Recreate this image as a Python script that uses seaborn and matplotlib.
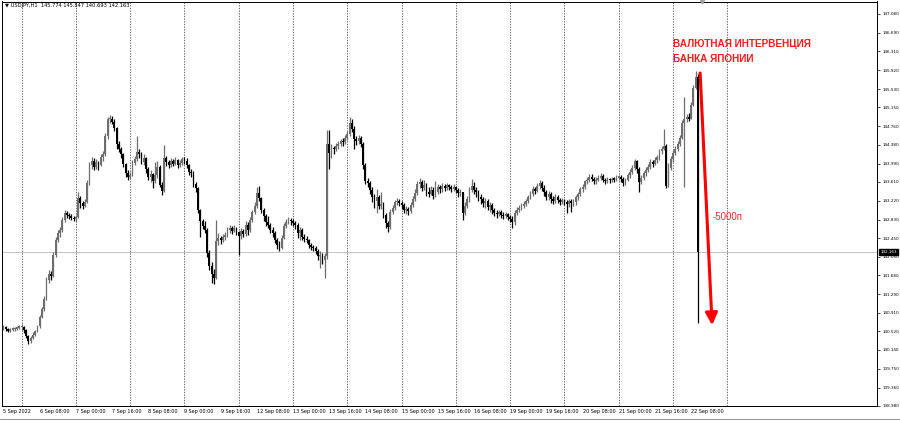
import numpy as np
import pandas as pd
import matplotlib
matplotlib.use("Agg")
import matplotlib.pyplot as plt
import seaborn as sns
from matplotlib import transforms
from matplotlib.lines import Line2D

sns.set_theme(style="white")
plt.rcParams["font.family"] = ["DejaVu Sans"]

# ---------------- data ----------------
chart_title = "\u25bc USDJPY,H1  145.774 145.847 140.693 142.163"
first_open = 140.58

closes = [
    140.62, 140.57, 140.54, 140.56, 140.57, 140.58, 140.60, 140.61,
    140.62, 140.55, 140.42, 140.33, 140.38, 140.45, 140.52, 140.63,
    140.82, 140.98, 141.20, 141.58, 141.70, 141.66, 142.10, 142.42,
    142.55, 142.62, 142.82, 142.96, 142.92, 142.90, 142.86, 142.84,
    142.88, 143.28, 143.18, 143.12, 143.20, 143.58, 143.95, 144.05,
    143.92, 144.02, 143.96, 144.12, 144.18, 144.55, 144.90, 144.92,
    144.85, 144.72, 144.40, 144.30, 144.18, 143.98, 143.80, 143.72,
    143.76, 144.00, 144.08, 144.22, 144.18, 144.02, 144.10, 143.88,
    143.72, 143.78, 143.62, 143.75, 143.92, 143.55, 143.42, 144.10,
    144.02, 143.96, 144.04, 143.98, 144.06, 143.96, 144.00, 144.08,
    144.04, 143.96, 143.82, 143.80, 143.56, 143.48, 143.02, 142.80,
    142.70, 142.62, 142.15, 141.88, 141.70, 141.62, 142.38, 142.45,
    142.40, 142.48, 142.52, 142.62, 142.66, 142.60, 142.66, 142.58,
    142.50, 142.60, 142.54, 142.72, 142.62, 142.82, 142.98, 143.12,
    143.38, 143.28, 143.02, 142.90, 142.78, 142.72, 142.62, 142.56,
    142.42, 142.30, 142.24, 142.46, 142.70, 142.78, 142.82, 142.80,
    142.76, 142.72, 142.56, 142.62, 142.48, 142.44, 142.40, 142.30,
    142.26, 142.24, 142.18, 142.08, 142.10, 142.00, 142.08, 144.40,
    144.20, 144.32, 144.28, 144.36, 144.40, 144.46, 144.44, 144.52,
    144.60, 144.82, 144.70, 144.50, 144.46, 144.52, 144.40, 143.96,
    143.62, 143.58, 143.44, 143.30, 143.22, 143.30, 143.12, 143.16,
    142.92, 142.76, 142.68, 142.98, 143.08, 143.20, 143.22, 143.18,
    143.14, 143.02, 143.06, 143.00, 143.14, 143.26, 143.38, 143.56,
    143.60, 143.48, 143.54, 143.40, 143.36, 143.44, 143.32, 143.40,
    143.50, 143.46, 143.52, 143.48, 143.54, 143.50, 143.46, 143.50,
    143.44, 143.38, 143.40, 142.96, 143.12, 143.26, 143.44, 143.52,
    143.44, 143.40, 143.30, 143.26, 143.18, 143.22, 143.10, 143.14,
    143.02, 142.96, 142.94, 142.98, 142.92, 142.90, 142.94, 142.88,
    142.84, 142.78, 142.96, 143.04, 143.08, 143.12, 143.16, 143.22,
    143.30, 143.36, 143.46, 143.42, 143.52, 143.58, 143.48, 143.40,
    143.30, 143.36, 143.26, 143.22, 143.30, 143.24, 143.20, 143.24,
    143.20, 143.16, 143.22, 143.18, 143.20, 143.30, 143.36, 143.46,
    143.50, 143.62, 143.66, 143.72, 143.68, 143.62, 143.66, 143.70,
    143.74, 143.66, 143.62, 143.66, 143.64, 143.68, 143.66, 143.70,
    143.72, 143.68, 143.58, 143.66, 143.76, 143.82, 143.90, 144.04,
    143.88, 143.60, 143.70, 143.80, 143.86, 143.92, 144.02, 143.98,
    144.06, 144.12, 144.24, 144.30, 144.36, 143.52, 143.90, 144.08,
    144.20, 144.30, 144.40, 144.52, 144.82, 144.90, 144.96, 144.92,
    145.20, 145.56, 145.774, 142.163,
]

highs = [
    140.66, 140.64, 140.60, 140.60, 140.61, 140.62, 140.64, 140.66,
    140.67, 140.63, 140.57, 140.45, 140.42, 140.50, 140.55, 140.66,
    140.86, 141.03, 141.26, 141.64, 141.78, 141.76, 142.16, 142.48,
    142.62, 142.68, 142.88, 143.02, 143.00, 142.96, 142.94, 142.90,
    142.92, 143.40, 143.32, 143.22, 143.26, 143.64, 144.02, 144.12,
    144.10, 144.08, 144.05, 144.18, 144.24, 144.62, 144.96, 144.99,
    144.98, 144.90, 144.75, 144.45, 144.34, 144.20, 144.00, 143.85,
    143.82, 144.06, 144.14, 144.55, 144.30, 144.22, 144.18, 144.12,
    143.92, 143.86, 143.80, 144.02, 144.04, 143.95, 143.60, 144.38,
    144.14, 144.06, 144.10, 144.08, 144.12, 144.08, 144.06, 144.12,
    144.12, 144.10, 143.98, 143.88, 143.84, 143.60, 143.50, 143.05,
    142.85, 142.80, 142.66, 142.20, 141.95, 141.82, 142.82, 142.55,
    142.50, 142.54, 142.58, 142.68, 142.72, 142.70, 142.72, 142.68,
    142.60, 142.66, 142.64, 142.80, 142.78, 142.88, 143.04, 143.20,
    143.50, 143.52, 143.30, 143.08, 142.95, 142.90, 142.76, 142.68,
    142.60, 142.46, 142.38, 142.52, 142.76, 142.84, 142.88, 142.86,
    142.84, 142.80, 142.76, 142.68, 142.66, 142.54, 142.50, 142.44,
    142.34, 142.30, 142.28, 142.22, 142.18, 142.14, 142.14, 144.68,
    144.68, 144.40, 144.36, 144.42, 144.46, 144.50, 144.52, 144.58,
    144.66, 144.95, 144.92, 144.76, 144.56, 144.58, 144.56, 144.44,
    144.00, 143.70, 143.62, 143.50, 143.36, 143.46, 143.34, 143.40,
    143.20, 142.96, 142.80, 143.05, 143.14, 143.24, 143.28, 143.26,
    143.22, 143.18, 143.12, 143.10, 143.20, 143.32, 143.46, 143.62,
    143.70, 143.64, 143.64, 143.58, 143.50, 143.52, 143.50, 143.62,
    143.56, 143.54, 143.58, 143.56, 143.58, 143.56, 143.54, 143.56,
    143.52, 143.48, 143.46, 143.40, 143.20, 143.32, 143.50, 143.68,
    143.60, 143.50, 143.44, 143.36, 143.30, 143.28, 143.26, 143.20,
    143.18, 143.08, 143.02, 143.04, 143.02, 142.98, 142.98, 142.96,
    142.92, 142.90, 143.02, 143.10, 143.14, 143.18, 143.22, 143.26,
    143.34, 143.42, 143.52, 143.50, 143.58, 143.64, 143.62, 143.54,
    143.44, 143.42, 143.40, 143.32, 143.36, 143.34, 143.28, 143.28,
    143.26, 143.24, 143.26, 143.26, 143.26, 143.34, 143.40, 143.50,
    143.56, 143.66, 143.72, 143.78, 143.78, 143.72, 143.72, 143.76,
    143.80, 143.78, 143.70, 143.72, 143.70, 143.72, 143.72, 143.76,
    143.76, 143.76, 143.72, 143.70, 143.80, 143.88, 143.96, 144.08,
    144.06, 143.92, 143.76, 143.84, 143.92, 143.98, 144.08, 144.06,
    144.12, 144.16, 144.30, 144.36, 144.70, 144.40, 144.00, 144.14,
    144.26, 144.36, 144.46, 144.58, 144.88, 145.36, 145.02, 145.04,
    145.26, 145.62, 145.90, 145.847,
]

lows = [
    140.55, 140.53, 140.50, 140.51, 140.53, 140.54, 140.56, 140.57,
    140.55, 140.48, 140.38, 140.27, 140.28, 140.36, 140.42, 140.50,
    140.60, 140.80, 140.95, 141.18, 141.52, 141.58, 141.64, 142.05,
    142.36, 142.48, 142.58, 142.78, 142.86, 142.84, 142.82, 142.80,
    142.78, 142.86, 143.08, 143.06, 143.10, 143.18, 143.55, 143.88,
    143.85, 143.88, 143.86, 143.94, 144.05, 144.15, 144.50, 144.82,
    144.80, 144.66, 144.30, 144.22, 144.10, 143.92, 143.72, 143.66,
    143.68, 143.74, 143.96, 144.04, 144.10, 143.98, 143.96, 143.80,
    143.66, 143.60, 143.48, 143.58, 143.70, 143.50, 143.34, 143.40,
    143.94, 143.90, 143.92, 143.94, 143.96, 143.90, 143.92, 143.96,
    143.98, 143.90, 143.76, 143.72, 143.50, 143.40, 142.96, 142.48,
    142.64, 142.56, 142.05, 141.80, 141.52, 141.50, 141.60, 142.30,
    142.32, 142.36, 142.40, 142.48, 142.56, 142.54, 142.58, 142.52,
    142.10, 142.44, 142.48, 142.50, 142.52, 142.58, 142.78, 142.94,
    143.08, 143.22, 142.96, 142.80, 142.70, 142.66, 142.56, 142.48,
    142.34, 142.22, 142.18, 142.22, 142.44, 142.66, 142.74, 142.72,
    142.70, 142.64, 142.46, 142.42, 142.40, 142.36, 142.34, 142.24,
    142.20, 142.18, 142.12, 142.00, 141.84, 141.92, 141.62, 142.02,
    143.88, 144.10, 144.18, 144.24, 144.30, 144.36, 144.36, 144.40,
    144.48, 144.56, 144.64, 144.30, 144.38, 144.40, 144.34, 143.88,
    143.56, 143.50, 143.36, 143.20, 143.08, 142.96, 143.06, 143.06,
    142.86, 142.66, 142.58, 142.64, 142.94, 143.04, 143.14, 143.12,
    143.06, 142.96, 142.94, 142.92, 142.96, 143.10, 143.22, 143.34,
    143.48, 143.42, 143.44, 143.32, 143.30, 143.34, 143.26, 143.30,
    143.36, 143.38, 143.40, 143.42, 143.44, 143.44, 143.40, 143.42,
    143.38, 143.30, 143.32, 142.82, 142.92, 143.08, 143.20, 143.40,
    143.36, 143.30, 143.22, 143.16, 143.10, 143.08, 143.02, 142.98,
    142.94, 142.90, 142.86, 142.90, 142.86, 142.84, 142.86, 142.82,
    142.78, 142.66, 142.72, 142.92, 142.98, 143.02, 143.08, 143.12,
    143.18, 143.26, 143.32, 143.36, 143.40, 143.46, 143.42, 143.32,
    143.24, 143.24, 143.18, 143.16, 143.18, 143.18, 143.14, 143.16,
    143.14, 142.96, 143.10, 142.98, 143.12, 143.14, 143.24, 143.32,
    143.40, 143.46, 143.56, 143.60, 143.62, 143.56, 143.56, 143.62,
    143.64, 143.60, 143.56, 143.58, 143.58, 143.60, 143.60, 143.62,
    143.64, 143.60, 143.52, 143.54, 143.62, 143.70, 143.78, 143.86,
    143.80, 143.40, 143.56, 143.66, 143.74, 143.82, 143.88, 143.92,
    143.96, 144.00, 144.06, 144.18, 144.26, 143.48, 143.50, 143.86,
    144.02, 144.16, 144.24, 144.36, 144.50, 143.50, 144.84, 144.86,
    144.90, 145.18, 145.52, 140.693,
]

day_start_bars = [8, 32, 56, 80, 104, 128, 152, 176, 200, 224, 248, 272, 296, 320]
date_label_bars = [0, 16, 32, 48, 64, 80, 96, 112, 128, 144, 160, 176, 192,
                   208, 224, 240, 256, 272, 288, 304]
date_labels = ["5 Sep 2022", "6 Sep 08:00", "7 Sep 00:00", "7 Sep 16:00",
               "8 Sep 08:00", "9 Sep 00:00", "9 Sep 16:00", "12 Sep 08:00",
               "13 Sep 00:00", "13 Sep 16:00", "14 Sep 08:00", "15 Sep 00:00",
               "15 Sep 16:00", "16 Sep 08:00", "19 Sep 00:00", "19 Sep 16:00",
               "20 Sep 08:00", "21 Sep 00:00", "21 Sep 16:00", "22 Sep 08:00"]
price_ticks = [147.080, 146.690, 146.310, 145.920, 145.530, 145.150, 144.760,
               144.380, 143.990, 143.610, 143.220, 142.830, 142.450, 142.060,
               141.680, 141.290, 140.910, 140.520, 140.140, 139.750, 139.360,
               138.980]
last_price = 142.163
note_line1 = "ВАЛЮТНАЯ ИНТЕРВЕНЦИЯ"
note_line2 = "БАНКА ЯПОНИИ"
note_move = "-5000п"

assert len(closes) == len(highs) == len(lows), (len(closes), len(highs), len(lows))

# ---------------- table ----------------
n = len(closes)
df = pd.DataFrame({
    "bar": np.arange(n),
    "open": [first_open] + closes[:-1],
    "high": highs,
    "low": lows,
    "close": closes,
})
df["high"] = df[["high", "open", "close"]].max(axis=1)
df["low"] = df[["low", "open", "close"]].min(axis=1)
df["up"] = df["close"] >= df["open"]
df["color"] = np.where(df["up"], "#6e6e6e", "#000000")
df["body_lo"] = df[["open", "close"]].min(axis=1)
df["body_h"] = (df["close"] - df["open"]).abs().clip(lower=0.025)

# ---------------- figure ----------------
W, H = 900, 421
fig = plt.figure(figsize=(9, 4.21), dpi=100)
fig.patch.set_facecolor("white")
ax = fig.add_axes([2 / W, 1 - 406 / H, 875 / W, 404.5 / H])
ax.set_facecolor("white")

ax.set_xlim(-0.66, 386.2)
ax.set_ylim(138.98, 147.338)

# day grid
for d in day_start_bars:
    ax.axvline(d, color="#505050", lw=0.6, ls=(0, (1.6, 1.6)), zorder=1)

# current price line
ax.axhline(last_price, color="#c4c4c4", lw=0.7, zorder=1)

# candles
ax.vlines(df["bar"], df["low"], df["high"], colors=df["color"], lw=0.9, zorder=3)
widths = np.where(df["bar"] == n - 1, 0.95, 0.8)
ax.bar(df["bar"], df["body_h"], bottom=df["body_lo"], width=widths,
       color=df["color"], linewidth=0, zorder=4)

# axes styling
for s in ax.spines.values():
    s.set_color("#000000")
    s.set_linewidth(0.7)
ax.set_xticks([])
ax.yaxis.tick_right()
ax.set_yticks(price_ticks)
ax.set_yticklabels([f"{p:.3f}" for p in price_ticks])
ax.tick_params(axis="y", labelsize=3.0, length=2.5, width=0.5, pad=1.5,
               colors="#000000", direction="out", right=True, left=False)
ax.grid(False)

# current price box
ytrans = transforms.blended_transform_factory(ax.transAxes, ax.transData)
ax.text(1.004, last_price, f"{last_price:.3f}", transform=ytrans, fontsize=3.0,
        color="white", va="center", ha="left", zorder=10,
        bbox=dict(boxstyle="square,pad=0.3", fc="black", ec="black"))

# date labels
xtrans = transforms.blended_transform_factory(ax.transData, ax.transAxes)
for b, lab in zip(date_label_bars, date_labels):
    ax.text(b, -0.0148, lab, transform=xtrans, fontsize=3.5, color="#000000",
            ha="left", va="center", clip_on=False)

# symbol header
fig.text(5 / W, 1 - 6 / H, chart_title, fontsize=3.7, color="#000000",
         ha="left", va="center")

# chart-shift marker on top
ax.plot([309], [147.338], marker="v", ms=3.5, color="#a0a0a0", clip_on=False, zorder=10)

# red annotations
fig.text(673 / W, 1 - 44 / H, note_line1, fontsize=7.2, color="#ff1a1a",
         fontweight="bold", family=["Liberation Sans", "DejaVu Sans"],
         ha="left", va="center")
fig.text(673 / W, 1 - 59 / H, note_line2, fontsize=7.2, color="#ff1a1a",
         fontweight="bold", family=["Liberation Sans", "DejaVu Sans"],
         ha="left", va="center")
fig.text(713 / W, 1 - 217 / H, note_move, fontsize=7.0, color="#ff2a2a",
         family=["Liberation Sans", "DejaVu Sans"], ha="left", va="center")
ax.annotate("", xy=(313.3, 140.65), xytext=(308.0, 145.86),
            arrowprops=dict(arrowstyle="-|>,head_length=0.6,head_width=0.3",
                            color="#ff0000", lw=2.2, shrinkA=0, shrinkB=0),
            zorder=12)

# bottom tab line
fig.add_artist(Line2D([0, 1], [1 - 419 / H, 1 - 419 / H], color="#9a9a9a", lw=0.8))

fig.savefig("out.png", dpi=100, facecolor="white")
